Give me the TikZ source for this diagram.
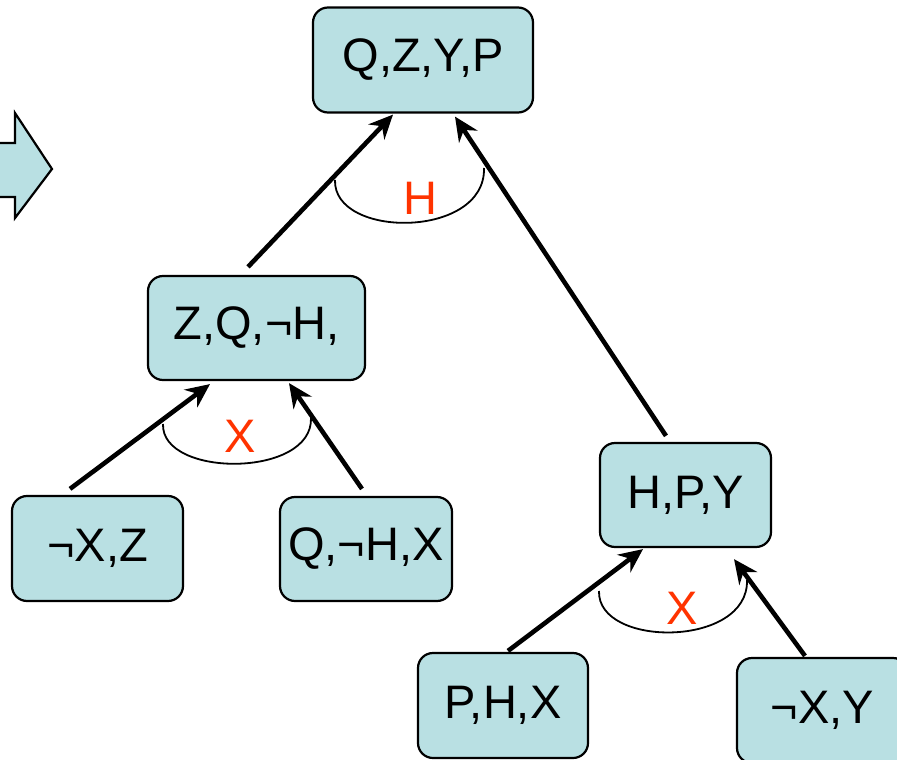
\documentclass[tikz,border=0pt]{standalone}
\usepackage{fontspec}
\setmainfont{Liberation Sans}
\usetikzlibrary{arrows.meta}
\definecolor{boxfill}{RGB}{185,224,227}
\definecolor{lblred}{RGB}{255,51,0}
\begin{document}
\begin{tikzpicture}[x=1pt,y=-1pt,
  clause/.style={draw=black,line width=2.2pt,fill=boxfill,rounded corners=15pt,
    inner sep=0pt,font=\fontsize{47}{50}\selectfont},
  arr/.style={line width=4.6pt,-{Stealth[length=24pt,width=22pt,inset=8pt]}},
  andarc/.style={line width=1.8pt},
  lbl/.style={text=lblred,font=\fontsize{47}{50}\selectfont,inner sep=0pt}]
\useasboundingbox (0,0) rectangle (897,760);
% left block arrow
\draw[fill=boxfill,line width=2.2pt,line join=miter] (-5,143) -- (15,143) -- (15,113) -- (52,169) -- (15,218) -- (15,197) -- (-5,197) -- cycle;
% nodes
\node[clause,minimum width=220pt,minimum height=105pt] (top) at (423,60) {Q,Z,Y,P};
\node[clause,minimum width=217pt,minimum height=104pt] (zq) at (256.5,328) {Z,Q,¬H,};
\node[clause,minimum width=171pt,minimum height=105pt] (nxz) at (97.5,548.5) {¬X,Z};
\node[clause,minimum width=172pt,minimum height=104pt] (qhx) at (366,549) {Q,¬H,X};
\node[clause,minimum width=171pt,minimum height=104pt] (hpy) at (685.5,495) {H,P,Y};
\node[clause,minimum width=170pt,minimum height=105pt] (phx) at (503,705.5) {P,H,X};
\node[clause,minimum width=171pt,minimum height=105pt] (nxy) at (822.5,710.5) {¬X,Y};
% connectors
\draw[arr] ([shift={(-8.5,-8)}]zq.north) -- ([shift={(-30,1)}]top.south);
\draw[arr] ([shift={(-19.5,-6)}]hpy.north) -- ([shift={(32,3)}]top.south);
\draw[arr] ([shift={(-27.5,-6)}]nxz.north) -- ([shift={(-46.5,3)}]zq.south);
\draw[arr] ([shift={(-4,-7)}]qhx.north) -- ([shift={(32.5,2)}]zq.south);
\draw[arr] ([shift={(5,-1)}]phx.north) -- ([shift={(-42.5,1)}]hpy.south);
\draw[arr] ([shift={(-17.5,-1)}]nxy.north) -- ([shift={(48.5,11)}]hpy.south);
% and-arcs
\draw[andarc] (335,180) .. controls (333,239) and (486,239) .. (484,168);
\node[lbl] (lh) at (420,198) {H};
\draw[andarc] (163,424) .. controls (161,478) and (313,478) .. (311,418);
\node[lbl] (lx1) at (240,436) {X};
\draw[andarc] (599,591) .. controls (597,648) and (749,648) .. (747,580);
\node[lbl] (lx2) at (682,608) {X};
\end{tikzpicture}
\end{document}
